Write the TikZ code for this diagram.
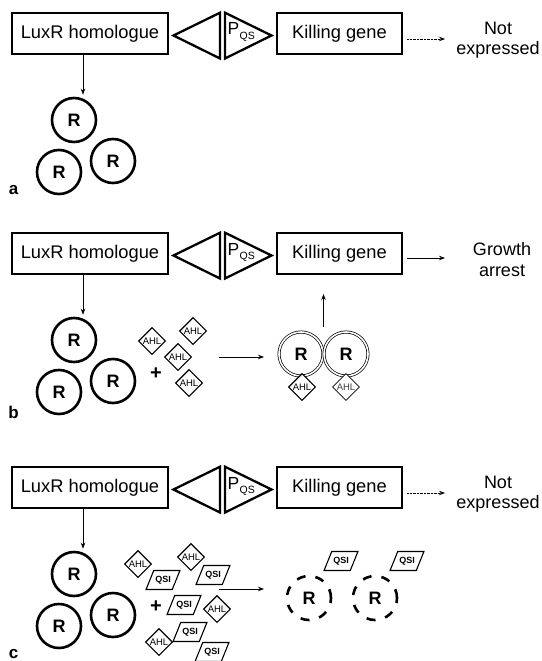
\documentclass[tikz,border=0pt]{standalone}
\usepackage{fontspec}
\setmainfont{Liberation Sans}
\usetikzlibrary{shapes.geometric,arrows.meta,calc}
\tikzset{
  gene/.style={draw, line width=2.5pt, inner sep=0pt, minimum height=41pt,
    font=\fontsize{18.3}{20}\selectfont},
  tri/.style={line width=2.3pt, line join=miter},
  prot/.style={circle, draw, line width=2.6pt, minimum size=44pt, inner sep=0pt,
    font=\fontsize{18}{18}\selectfont\bfseries},
  dprot/.style={prot, dash pattern=on 9pt off 10pt},
  wprot/.style={circle, draw, line width=0.7pt, double, double distance=1.6pt,
    minimum size=44pt, inner sep=0pt, font=\fontsize{18}{18}\selectfont\bfseries},
  ahl/.style={diamond, draw, line width=1.1pt, inner sep=0.5pt, fill=white,
    font=\fontsize{9.5}{9.5}\selectfont},
  qsi/.style={trapezium, trapezium left angle=68, trapezium right angle=112,
    draw, line width=1.1pt, inner xsep=1.5pt, inner ysep=5.5pt, fill=white,
    font=\fontsize{9}{9}\selectfont\bfseries},
  arr/.style={line width=0.8pt, -{Stealth[length=6pt,width=4.5pt]}},
  dotarr/.style={arr, dash pattern=on 0.7pt off 0.7pt},
  outtxt/.style={align=center, inner sep=0pt, font=\fontsize{18}{20}\selectfont},
  plus/.style={inner sep=0pt, font=\fontsize{20}{20}\selectfont\bfseries},
  lab/.style={inner sep=0pt, font=\fontsize{17}{17}\selectfont\bfseries},
}
\newcommand{\generow}[2]{%
  \begin{scope}[shift={(0,#2)}]
    \node[gene, minimum width=156pt] (lux#1) at (90,33.5) {LuxR homologue};
    \draw[tri] (220,12.7) -- (173.5,35.5) -- (220,58.5) -- cycle;
    \draw[tri] (225,12.7) -- (271.5,35.5) -- (225,58.5) -- cycle;
    \node[anchor=base west, inner sep=0pt, font=\fontsize{17.5}{17.5}\selectfont]
      (pqs#1) at (227.5,35) {P\kern0.3pt\raisebox{-4.3pt}{\fontsize{10.5}{10.5}\selectfont QS}};
    \node[gene, minimum width=125pt] (kill#1) at (339.5,33.5) {Killing gene};
    \node[prot] (ra#1) at (74,120) {R};
    \node[prot] (rb#1) at (59,172) {R};
    \node[prot] (rc#1) at (113,161) {R};
    \draw[arr] ([xshift=-7pt]lux#1.south) -- ([xshift=9pt,yshift=2pt]ra#1.north);
  \end{scope}}
\begin{document}
\begin{tikzpicture}[x=1pt,y=-1pt]
\useasboundingbox[fill=white] (0,0) rectangle (541,661);

% ---------------- panel a
\generow{a}{0}
\coordinate (sa) at (407,39);
\coordinate (ea) at (445,39);
\draw[dotarr] (sa) -- (ea);
\node[outtxt] (outa) at (498,40) {Not\\expressed};
\node[lab] (la) at (13.5,190) {a};

% ---------------- panel b
\generow{b}{220}
\begin{scope}[shift={(0,220)}]
  \coordinate (sb) at (407,38);
  \coordinate (eb) at (445,38);
  \draw[arr] (sb) -- (eb);
  \node[outtxt, font=\fontsize{18}{21}\selectfont] (outb) at (502,40) {Growth\\arrest};
  \node[lab] (lb) at (13.5,192) {b};
  \node[plus] (plb) at (156,154) {+};
  \node[ahl] (hb1) at (152,121) {AHL};
  \node[ahl] (hb2) at (193,111) {AHL};
  \node[ahl] (hb3) at (178,137) {AHL};
  \node[ahl] (hb4) at (189,163) {AHL};
  \coordinate (sb2) at (219,137);
  \coordinate (eb2) at (264,137);
  \draw[arr] (sb2) -- (eb2);
  \node[wprot] (db1) at (301,134) {R};
  \node[wprot] (db2) at (346,134) {R};
  \node[ahl] (hb5) at (302,167) {AHL};
  \node[ahl, line width=0.6pt, text=black!75] (hb6) at (346,167) {AHL};
  \coordinate (ub) at (323.5,107);
  \coordinate (vb) at (323.5,74);
  \draw[arr] (ub) -- (vb);
\end{scope}

% ---------------- panel c
\generow{c}{454}
\begin{scope}[shift={(0,454)}]
  \coordinate (sc) at (407,39);
  \coordinate (ec) at (445,39);
  \draw[dotarr] (sc) -- (ec);
  \node[outtxt] (outc) at (498,40) {Not\\expressed};
  \node[lab] (lc) at (13.5,200) {c};
  \node[plus] (plc) at (156,153) {+};
  \node[ahl] (hc1) at (138,110) {AHL};
  \node[ahl] (hc2) at (191,103) {AHL};
  \node[ahl] (hc3) at (217,155) {AHL};
  \node[ahl] (hc4) at (159,188) {AHL};
  \node[qsi] (qc1) at (163,126) {QSI};
  \node[qsi] (qc2) at (213,121) {QSI};
  \node[qsi] (qc3) at (184,151) {QSI};
  \node[qsi] (qc4) at (190,178) {QSI};
  \node[qsi] (qc5) at (212,198) {QSI};
  \coordinate (sc2) at (219,135);
  \coordinate (ec2) at (264,135);
  \draw[arr] (sc2) -- (ec2);
  \node[dprot] (dc1) at (309,144) {R};
  \node[dprot] (dc2) at (375,144) {R};
  \node[qsi] (qc6) at (341,107) {QSI};
  \node[qsi] (qc7) at (407,107) {QSI};
\end{scope}
\end{tikzpicture}
\end{document}
